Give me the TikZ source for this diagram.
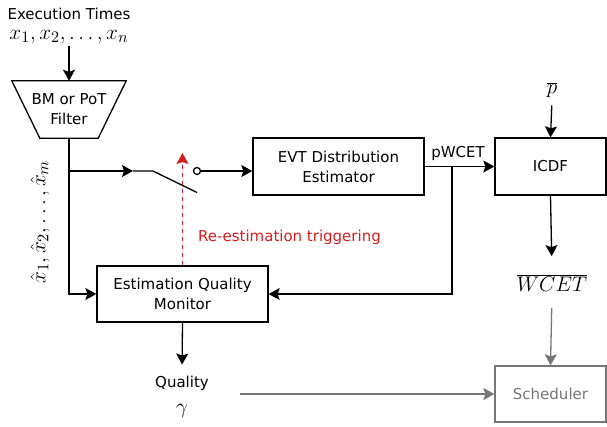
\documentclass[tikz,border=0pt]{standalone}
\usepackage{graphicx}
\usepackage{fontspec}
\setmainfont{DejaVu Sans}
\usetikzlibrary{arrows.meta,calc}
\definecolor{trigred}{RGB}{214,28,28}
\definecolor{grayc}{RGB}{118,118,118}
\newcommand{\bigfont}{\fontsize{15}{20}\selectfont}
\newcommand{\bm}[1]{\scalebox{1.47}{$#1$}}
\begin{document}
\begin{tikzpicture}[x=1pt,y=-1pt,
  font=\bigfont,
  every node/.style={inner sep=2pt},
  arr/.style={-{Stealth[length=11pt,width=12pt,inset=2pt]}},
  ln/.style={line width=1.3pt},
  box/.style={draw,line width=1.3pt,align=center,inner sep=0pt},
  graybox/.style={box,draw=grayc,text=grayc},
  txt/.style={align=center}]
\useasboundingbox (0,0) rectangle (607,426);

% nodes
\node[txt] (exec) at (69,14) {Execution Times};
\node[txt] (xs) at (69,37) {\bm{x_1, x_2, \ldots, x_n}};
\node[txt,minimum width=114pt,minimum height=57pt,inner sep=0pt] (filt) at (69,109.5) {BM or PoT\\Filter};
\draw[ln] (filt.north west) -- (filt.north east) -- ($(filt.south east)+(-28,0)$) -- ($(filt.south west)+(28,0)$) -- cycle;
\node[rotate=90] (xh) at (40,222) {\bm{\hat{x}_1, \hat{x}_2, \ldots, \hat{x}_m}};

\node[box,minimum width=171pt,minimum height=57pt] (evt) at (338.5,166.5) {EVT Distribution\\Estimator};
\node[box,minimum width=111pt,minimum height=57pt] (icdf) at (550.5,166.5) {ICDF};
\node[box,minimum width=171pt,minimum height=56pt] (eqm) at (182.5,294) {Estimation Quality\\Monitor};
\node[graybox,minimum width=111pt,minimum height=56pt] (sched) at (550.5,394) {Scheduler};

\node (pbar) at (552,90) {\bm{\overline{p}}};
\node (wcet) at (552,283) {\bm{\overline{WCET}}};
\node (pwcet) at (458,153) {pWCET};
\node (qual) at (182,383) {Quality};
\node (gam) at (182,411) {\bm{\gamma}};
\node[anchor=west,text=trigred] (trig) at (196,237) {Re-estimation triggering};

\node[draw,circle,line width=1.3pt,minimum size=7pt,inner sep=0pt] (swo) at (197,171) {};

\coordinate (br1) at (69,171);
\coordinate (swa) at (133,171);
\coordinate (swb) at (153,171);
\coordinate (swc) at (197,192.5);
\coordinate (trigtop) at (182.5,153);
\coordinate (br2) at (452,166.5);
\coordinate (qline) at (240,394);

% connectors
\draw[ln,arr] (xs.south) -- (filt.north);
\draw[ln,arr] (filt.south) |- (eqm.west);
\draw[ln,arr] (br1) -- (swa);
\draw[ln] (swa) -- (swb) -- (swc);
\draw[ln,arr] (swo.east) -- (swo.east -| evt.west);
\draw[ln,arr,trigred,dash pattern=on 4pt off 4pt] (eqm.north) -- (trigtop);
\draw[ln,arr] (evt.east) -- (icdf.west);
\draw[ln,arr] (br2) |- (eqm.east);
\draw[ln,arr,shorten <=5pt] (pbar.south) -- (icdf.north);
\draw[ln,arr,shorten >=16pt] (icdf.south) -- (wcet.north);
\draw[ln,arr,grayc,shorten <=14pt] (wcet.south) -- (sched.north);
\draw[ln,arr,shorten >=9pt] (eqm.south) -- (qual.north);
\draw[ln,arr,grayc] (qline) -- (sched.west);
\end{tikzpicture}
\end{document}
